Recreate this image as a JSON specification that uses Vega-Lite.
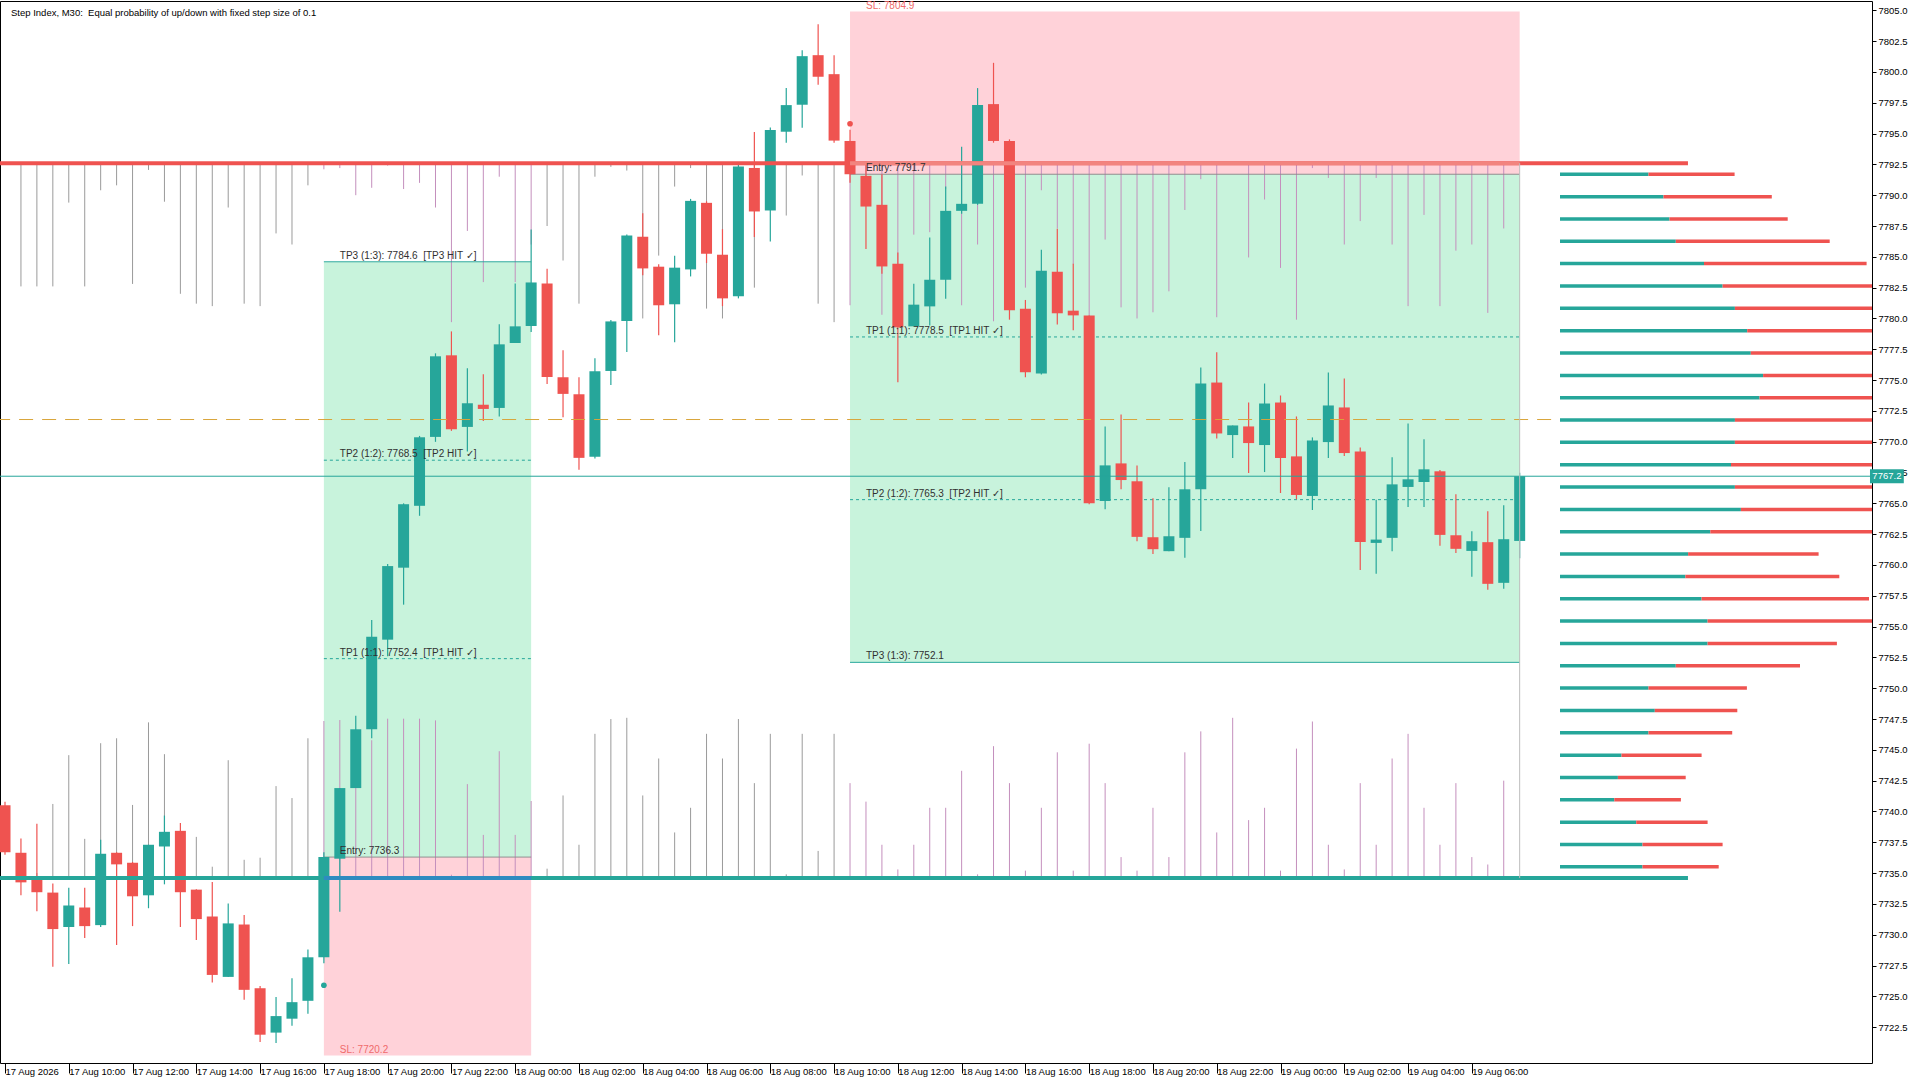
{
  "$schema": "https://vega.github.io/schema/vega-lite/v6.json",
  "width": 1872,
  "height": 1062,
  "autosize": {"type": "none"},
  "padding": {"left": 0, "top": 1, "right": 48, "bottom": 17},
  "background": "#ffffff",
  "config": {
    "view": {"stroke": "#000000", "strokeWidth": 1},
    "axis": {"grid": false, "labelFont": "Liberation Sans", "labelFontSize": 9.5, "labelColor": "#000000", "domainColor": "#000000", "tickColor": "#000000", "labelOverlap": false, "labelFlush": false}
  },
  "datasets": {
    "caption": [{"t":"2026-08-17T08:00:00Z","p":7805.35,"text":"Step Index, M30:\u00a0 Equal probability of up/down with fixed step size of 0.1"}],
    "bars": [
      {"t":"2026-08-17T08:00Z","o":7740.5,"h":7740.8,"l":7736.5,"c":7736.7,"vt":7792.6,"vb":7734.6},
      {"t":"2026-08-17T08:30Z","o":7736.65,"h":7737.8,"l":7733.2,"c":7734.25,"vt":7782.6,"vb":7735.0},
      {"t":"2026-08-17T09:00Z","o":7734.47,"h":7739.0,"l":7731.9,"c":7733.45,"vt":7782.6,"vb":7735.0},
      {"t":"2026-08-17T09:30Z","o":7733.42,"h":7734.15,"l":7727.4,"c":7730.46,"vt":7782.6,"vb":7740.61},
      {"t":"2026-08-17T10:00Z","o":7730.62,"h":7733.82,"l":7727.63,"c":7732.37,"vt":7789.4,"vb":7744.57},
      {"t":"2026-08-17T10:30Z","o":7732.21,"h":7733.82,"l":7729.73,"c":7730.7,"vt":7782.6,"vb":7737.78},
      {"t":"2026-08-17T11:00Z","o":7730.78,"h":7737.7,"l":7730.62,"c":7736.57,"vt":7790.4,"vb":7745.54},
      {"t":"2026-08-17T11:30Z","o":7736.65,"h":7736.7,"l":7729.16,"c":7735.71,"vt":7790.8,"vb":7745.94},
      {"t":"2026-08-17T12:00Z","o":7735.84,"h":7735.9,"l":7730.7,"c":7733.12,"vt":7782.8,"vb":7740.53},
      {"t":"2026-08-17T12:30Z","o":7733.2,"h":7737.3,"l":7732.15,"c":7737.3,"vt":7792.05,"vb":7747.23},
      {"t":"2026-08-17T13:00Z","o":7737.16,"h":7739.67,"l":7734.09,"c":7738.35,"vt":7789.47,"vb":7744.65},
      {"t":"2026-08-17T13:30Z","o":7738.43,"h":7739.07,"l":7730.62,"c":7733.45,"vt":7782.0,"vb":7736.0},
      {"t":"2026-08-17T14:00Z","o":7733.66,"h":7733.7,"l":7729.57,"c":7731.27,"vt":7781.2,"vb":7737.94},
      {"t":"2026-08-17T14:30Z","o":7731.48,"h":7734.28,"l":7726.12,"c":7726.74,"vt":7781.0,"vb":7735.52},
      {"t":"2026-08-17T15:00Z","o":7726.58,"h":7732.53,"l":7726.58,"c":7730.92,"vt":7789.0,"vb":7744.16},
      {"t":"2026-08-17T15:30Z","o":7730.83,"h":7731.61,"l":7724.72,"c":7725.53,"vt":7781.2,"vb":7736.08},
      {"t":"2026-08-17T16:00Z","o":7725.66,"h":7725.85,"l":7721.3,"c":7721.89,"vt":7781.0,"vb":7736.25},
      {"t":"2026-08-17T16:30Z","o":7722.06,"h":7724.94,"l":7721.22,"c":7723.4,"vt":7786.9,"vb":7742.06},
      {"t":"2026-08-17T17:00Z","o":7723.19,"h":7726.47,"l":7722.62,"c":7724.53,"vt":7786.0,"vb":7741.09},
      {"t":"2026-08-17T17:30Z","o":7724.64,"h":7728.81,"l":7723.59,"c":7728.17,"vt":7790.8,"vb":7745.94},
      {"t":"2026-08-17T18:00Z","o":7728.17,"h":7736.7,"l":7727.68,"c":7736.3,"vt":7792.1,"vb":7747.34},
      {"t":"2026-08-17T18:30Z","o":7736.17,"h":7741.9,"l":7731.86,"c":7741.9,"vt":7792.2,"vb":7747.42},
      {"t":"2026-08-17T19:00Z","o":7741.9,"h":7747.77,"l":7741.9,"c":7746.67,"vt":7790.0,"vb":7745.5},
      {"t":"2026-08-17T19:30Z","o":7746.67,"h":7755.53,"l":7745.94,"c":7754.18,"vt":7790.6,"vb":7745.78},
      {"t":"2026-08-17T20:00Z","o":7753.94,"h":7760.07,"l":7752.59,"c":7759.91,"vt":7792.4,"vb":7747.53},
      {"t":"2026-08-17T20:30Z","o":7759.78,"h":7765.0,"l":7756.78,"c":7764.93,"vt":7790.5,"vb":7747.53},
      {"t":"2026-08-17T21:00Z","o":7764.8,"h":7770.47,"l":7763.99,"c":7770.36,"vt":7791.0,"vb":7747.53},
      {"t":"2026-08-17T21:30Z","o":7770.39,"h":7777.17,"l":7769.99,"c":7776.93,"vt":7789.0,"vb":7747.39},
      {"t":"2026-08-17T22:00Z","o":7777.01,"h":7778.95,"l":7770.88,"c":7771.01,"vt":7779.7,"vb":7734.87},
      {"t":"2026-08-17T22:30Z","o":7771.2,"h":7775.96,"l":7769.2,"c":7773.12,"vt":7787.1,"vb":7742.22},
      {"t":"2026-08-17T23:00Z","o":7773.0,"h":7775.47,"l":7771.69,"c":7772.66,"vt":7782.95,"vb":7738.1},
      {"t":"2026-08-17T23:30Z","o":7772.74,"h":7779.52,"l":7772.04,"c":7777.9,"vt":7791.5,"vb":7744.89},
      {"t":"2026-08-18T00:00Z","o":7778.01,"h":7782.84,"l":7778.0,"c":7779.36,"vt":7782.95,"vb":7738.1},
      {"t":"2026-08-18T00:30Z","o":7779.39,"h":7787.22,"l":7778.9,"c":7782.92,"vt":7786.0,"vb":7740.85},
      {"t":"2026-08-18T01:00Z","o":7782.84,"h":7784.03,"l":7774.69,"c":7775.25,"vt":7787.5,"vb":7735.36},
      {"t":"2026-08-18T01:30Z","o":7775.23,"h":7777.43,"l":7771.98,"c":7773.88,"vt":7784.7,"vb":7741.3},
      {"t":"2026-08-18T02:00Z","o":7773.85,"h":7775.23,"l":7767.72,"c":7768.69,"vt":7781.2,"vb":7737.3},
      {"t":"2026-08-18T02:30Z","o":7768.77,"h":7776.77,"l":7768.64,"c":7775.71,"vt":7791.5,"vb":7746.3},
      {"t":"2026-08-18T03:00Z","o":7775.74,"h":7779.87,"l":7774.6,"c":7779.76,"vt":7792.3,"vb":7747.5},
      {"t":"2026-08-18T03:30Z","o":7779.79,"h":7786.81,"l":7777.28,"c":7786.73,"vt":7792.0,"vb":7747.6},
      {"t":"2026-08-18T04:00Z","o":7786.63,"h":7788.54,"l":7783.5,"c":7784.06,"vt":7780.0,"vb":7741.3},
      {"t":"2026-08-18T04:30Z","o":7784.2,"h":7784.4,"l":7778.64,"c":7781.07,"vt":7785.1,"vb":7744.3},
      {"t":"2026-08-18T05:00Z","o":7781.15,"h":7785.09,"l":7778.07,"c":7784.12,"vt":7790.7,"vb":7738.3},
      {"t":"2026-08-18T05:30Z","o":7783.98,"h":7789.7,"l":7783.41,"c":7789.54,"vt":7792.2,"vb":7740.3},
      {"t":"2026-08-18T06:00Z","o":7789.38,"h":7789.5,"l":7784.5,"c":7785.25,"vt":7780.8,"vb":7746.3},
      {"t":"2026-08-18T06:30Z","o":7785.17,"h":7787.25,"l":7781.0,"c":7781.63,"vt":7780.0,"vb":7744.3},
      {"t":"2026-08-18T07:00Z","o":7781.8,"h":7792.48,"l":7781.63,"c":7792.32,"vt":7792.4,"vb":7747.5},
      {"t":"2026-08-18T07:30Z","o":7792.21,"h":7795.13,"l":7786.6,"c":7788.68,"vt":7782.5,"vb":7742.3},
      {"t":"2026-08-18T08:00Z","o":7788.76,"h":7795.5,"l":7786.25,"c":7795.29,"vt":7792.6,"vb":7746.3},
      {"t":"2026-08-18T08:30Z","o":7795.15,"h":7798.69,"l":7794.26,"c":7797.31,"vt":7788.35,"vb":7734.9},
      {"t":"2026-08-18T09:00Z","o":7797.34,"h":7801.77,"l":7795.48,"c":7801.28,"vt":7791.6,"vb":7746.3},
      {"t":"2026-08-18T09:30Z","o":7801.36,"h":7803.87,"l":7798.96,"c":7799.61,"vt":7781.2,"vb":7736.8},
      {"t":"2026-08-18T10:00Z","o":7799.82,"h":7801.36,"l":7794.26,"c":7794.43,"vt":7779.7,"vb":7746.3},
      {"t":"2026-08-18T10:30Z","o":7794.4,"h":7795.3,"l":7791.0,"c":7791.7,"vt":7781.07,"vb":7742.3},
      {"t":"2026-08-18T11:00Z","o":7791.57,"h":7792.73,"l":7785.63,"c":7789.08,"vt":7791.0,"vb":7740.8},
      {"t":"2026-08-18T11:30Z","o":7789.22,"h":7791.7,"l":7783.63,"c":7784.22,"vt":7780.3,"vb":7737.3},
      {"t":"2026-08-18T12:00Z","o":7784.44,"h":7785.36,"l":7774.83,"c":7779.28,"vt":7783.0,"vb":7735.3},
      {"t":"2026-08-18T12:30Z","o":7779.36,"h":7782.82,"l":7779.36,"c":7781.12,"vt":7786.8,"vb":7737.3},
      {"t":"2026-08-18T13:00Z","o":7780.98,"h":7786.57,"l":7779.42,"c":7783.14,"vt":7787.0,"vb":7740.3},
      {"t":"2026-08-18T13:30Z","o":7783.14,"h":7790.7,"l":7781.6,"c":7788.73,"vt":7790.5,"vb":7740.3},
      {"t":"2026-08-18T14:00Z","o":7788.73,"h":7793.94,"l":7788.5,"c":7789.3,"vt":7781.07,"vb":7743.3},
      {"t":"2026-08-18T14:30Z","o":7789.3,"h":7798.69,"l":7789.22,"c":7797.31,"vt":7786.0,"vb":7734.9},
      {"t":"2026-08-18T15:00Z","o":7797.39,"h":7800.74,"l":7794.26,"c":7794.4,"vt":7779.77,"vb":7745.3},
      {"t":"2026-08-18T15:30Z","o":7794.4,"h":7794.53,"l":7779.9,"c":7780.66,"vt":7782.0,"vb":7742.3},
      {"t":"2026-08-18T16:00Z","o":7780.79,"h":7781.5,"l":7775.23,"c":7775.64,"vt":7782.5,"vb":7735.2},
      {"t":"2026-08-18T16:30Z","o":7775.53,"h":7785.57,"l":7775.45,"c":7783.87,"vt":7790.4,"vb":7740.3},
      {"t":"2026-08-18T17:00Z","o":7783.79,"h":7787.27,"l":7779.5,"c":7780.42,"vt":7787.3,"vb":7744.8},
      {"t":"2026-08-18T17:30Z","o":7780.63,"h":7784.44,"l":7779.04,"c":7780.25,"vt":7784.4,"vb":7735.2},
      {"t":"2026-08-18T18:00Z","o":7780.23,"h":7780.25,"l":7764.92,"c":7765.0,"vt":7780.2,"vb":7745.5},
      {"t":"2026-08-18T18:30Z","o":7765.19,"h":7771.24,"l":7764.52,"c":7768.08,"vt":7786.4,"vb":7742.3},
      {"t":"2026-08-18T19:00Z","o":7768.24,"h":7772.21,"l":7766.14,"c":7766.89,"vt":7780.9,"vb":7736.3},
      {"t":"2026-08-18T19:30Z","o":7766.79,"h":7768.08,"l":7761.93,"c":7762.28,"vt":7780.0,"vb":7735.2},
      {"t":"2026-08-18T20:00Z","o":7762.25,"h":7765.41,"l":7760.88,"c":7761.28,"vt":7780.5,"vb":7740.3},
      {"t":"2026-08-18T20:30Z","o":7761.12,"h":7766.3,"l":7761.12,"c":7762.33,"vt":7782.2,"vb":7736.3},
      {"t":"2026-08-18T21:00Z","o":7762.2,"h":7768.35,"l":7760.58,"c":7766.14,"vt":7788.8,"vb":7744.8},
      {"t":"2026-08-18T21:30Z","o":7766.14,"h":7776.02,"l":7762.76,"c":7774.72,"vt":7791.3,"vb":7746.5},
      {"t":"2026-08-18T22:00Z","o":7774.8,"h":7777.26,"l":7770.27,"c":7770.67,"vt":7780.1,"vb":7738.3},
      {"t":"2026-08-18T22:30Z","o":7770.54,"h":7771.32,"l":7768.68,"c":7771.32,"vt":7792.6,"vb":7747.6},
      {"t":"2026-08-18T23:00Z","o":7771.24,"h":7773.18,"l":7767.46,"c":7769.89,"vt":7784.95,"vb":7739.3},
      {"t":"2026-08-18T23:30Z","o":7769.73,"h":7774.72,"l":7767.54,"c":7773.1,"vt":7789.65,"vb":7740.3},
      {"t":"2026-08-19T00:00Z","o":7773.18,"h":7773.75,"l":7765.84,"c":7768.68,"vt":7784.1,"vb":7735.2},
      {"t":"2026-08-19T00:30Z","o":7768.81,"h":7772.05,"l":7765.33,"c":7765.68,"vt":7779.9,"vb":7745.1},
      {"t":"2026-08-19T01:00Z","o":7765.6,"h":7770.35,"l":7764.46,"c":7770.1,"vt":7792.2,"vb":7747.3},
      {"t":"2026-08-19T01:30Z","o":7769.97,"h":7775.61,"l":7768.67,"c":7772.94,"vt":7791.4,"vb":7737.3},
      {"t":"2026-08-19T02:00Z","o":7772.78,"h":7775.12,"l":7768.84,"c":7769.08,"vt":7786.0,"vb":7735.3},
      {"t":"2026-08-19T02:30Z","o":7769.21,"h":7769.54,"l":7759.6,"c":7761.87,"vt":7787.9,"vb":7742.3},
      {"t":"2026-08-19T03:00Z","o":7761.79,"h":7765.3,"l":7759.28,"c":7762.06,"vt":7791.4,"vb":7737.3},
      {"t":"2026-08-19T03:30Z","o":7762.2,"h":7768.73,"l":7761.12,"c":7766.54,"vt":7786.0,"vb":7744.3},
      {"t":"2026-08-19T04:00Z","o":7766.33,"h":7771.48,"l":7764.71,"c":7766.95,"vt":7781.0,"vb":7746.3},
      {"t":"2026-08-19T04:30Z","o":7766.73,"h":7770.19,"l":7764.71,"c":7767.76,"vt":7788.4,"vb":7740.3},
      {"t":"2026-08-19T05:00Z","o":7767.6,"h":7767.7,"l":7761.55,"c":7762.44,"vt":7781.0,"vb":7737.3},
      {"t":"2026-08-19T05:30Z","o":7762.41,"h":7765.73,"l":7760.98,"c":7761.31,"vt":7785.5,"vb":7742.3},
      {"t":"2026-08-19T06:00Z","o":7761.14,"h":7762.74,"l":7759.04,"c":7761.93,"vt":7786.0,"vb":7736.3},
      {"t":"2026-08-19T06:30Z","o":7761.85,"h":7764.36,"l":7757.99,"c":7758.47,"vt":7780.45,"vb":7735.7},
      {"t":"2026-08-19T07:00Z","o":7758.55,"h":7764.84,"l":7758.07,"c":7762.09,"vt":7787.3,"vb":7742.5},
      {"t":"2026-08-19T07:30Z","o":7761.95,"h":7767.49,"l":7760.55,"c":7767.2,"vt":7792.6,"vb":7734.6}
    ],
    "zones": [
      {"t1":"2026-08-17T18:00Z","t2":"2026-08-18T00:30Z","p1":7736.3,"p2":7784.6,"kind":"win"},
      {"t1":"2026-08-17T18:00Z","t2":"2026-08-18T00:30Z","p1":7720.2,"p2":7736.3,"kind":"loss"},
      {"t1":"2026-08-18T10:30Z","t2":"2026-08-19T07:30Z","p1":7752.1,"p2":7791.7,"kind":"win"},
      {"t1":"2026-08-18T10:30Z","t2":"2026-08-19T07:30Z","p1":7791.7,"p2":7804.9,"kind":"loss"}
    ],
    "trade": [
      {"t1":"2026-08-17T18:00Z","t2":"2026-08-18T00:30Z","p":7784.6,"kind":"target"},
      {"t1":"2026-08-17T18:00Z","t2":"2026-08-18T00:30Z","p":7768.5,"kind":"partial"},
      {"t1":"2026-08-17T18:00Z","t2":"2026-08-18T00:30Z","p":7752.4,"kind":"partial"},
      {"t1":"2026-08-17T18:00Z","t2":"2026-08-18T00:30Z","p":7736.3,"kind":"entry"},
      {"t1":"2026-08-18T10:30Z","t2":"2026-08-19T07:30Z","p":7791.7,"kind":"entry"},
      {"t1":"2026-08-18T10:30Z","t2":"2026-08-19T07:30Z","p":7778.5,"kind":"partial"},
      {"t1":"2026-08-18T10:30Z","t2":"2026-08-19T07:30Z","p":7765.3,"kind":"partial"},
      {"t1":"2026-08-18T10:30Z","t2":"2026-08-19T07:30Z","p":7752.1,"kind":"target"}
    ],
    "notes": [
      {"t":"2026-08-17T18:30Z","p":7784.6,"text":"TP3 (1:3): 7784.6\u00a0 [TP3 HIT ✓]","kind":"info"},
      {"t":"2026-08-17T18:30Z","p":7768.5,"text":"TP2 (1:2): 7768.5\u00a0 [TP2 HIT ✓]","kind":"info"},
      {"t":"2026-08-17T18:30Z","p":7752.4,"text":"TP1 (1:1): 7752.4\u00a0 [TP1 HIT ✓]","kind":"info"},
      {"t":"2026-08-17T18:30Z","p":7736.3,"text":"Entry: 7736.3","kind":"info"},
      {"t":"2026-08-17T18:30Z","p":7720.2,"text":"SL: 7720.2","kind":"sl"},
      {"t":"2026-08-18T11:00Z","p":7804.9,"text":"SL: 7804.9","kind":"sl"},
      {"t":"2026-08-18T11:00Z","p":7791.7,"text":"Entry: 7791.7","kind":"info"},
      {"t":"2026-08-18T11:00Z","p":7778.5,"text":"TP1 (1:1): 7778.5\u00a0 [TP1 HIT ✓]","kind":"info"},
      {"t":"2026-08-18T11:00Z","p":7765.3,"text":"TP2 (1:2): 7765.3\u00a0 [TP2 HIT ✓]","kind":"info"},
      {"t":"2026-08-18T11:00Z","p":7752.1,"text":"TP3 (1:3): 7752.1","kind":"info"}
    ],
    "levels": [
      {"kind":"res","p":7792.6,"t1":"2026-08-17T07:00Z","t2":"2026-08-19T12:46:40Z"},
      {"kind":"sup","p":7734.6,"t1":"2026-08-17T07:00Z","t2":"2026-08-19T12:46:40Z"},
      {"kind":"res_in","p":7792.6,"t1":"2026-08-18T10:30Z","t2":"2026-08-19T07:30Z"},
      {"kind":"sup_in","p":7734.6,"t1":"2026-08-17T18:00Z","t2":"2026-08-18T00:30Z"},
      {"kind":"last","p":7767.2,"t1":"2026-08-17T07:00Z","t2":"2026-08-19T20:00Z"},
      {"kind":"mid","p":7771.8,"t1":"2026-08-17T07:00Z","t2":"2026-08-19T20:00Z"}
    ],
    "cursor": [{"t":"2026-08-19T07:30Z","p1":7734.6,"p2":7792.6}],
    "signals": [
      {"t":"2026-08-17T18:00Z","p":7725.9,"side":"buy"},
      {"t":"2026-08-18T10:30Z","p":7795.8,"side":"sell"}
    ],
    "tag": [{"t1":"2026-08-19T18:29:09Z","t2":"2026-08-19T19:32:47Z","tm":"2026-08-19T19:00:58Z","p1":7766.63,"p2":7767.77,"p":7767.2,"text":"7767.2"}],
    "profile": [
      {"p":7791.70,"side":"buy","v":29.5},{"p":7791.70,"side":"sell","v":28.7},
      {"p":7789.88,"side":"buy","v":34.5},{"p":7789.88,"side":"sell","v":36.1},
      {"p":7788.07,"side":"buy","v":36.5},{"p":7788.07,"side":"sell","v":39.4},
      {"p":7786.26,"side":"buy","v":38.6},{"p":7786.26,"side":"sell","v":51.3},
      {"p":7784.45,"side":"buy","v":48.0},{"p":7784.45,"side":"sell","v":54.2},
      {"p":7782.63,"side":"buy","v":54.2},{"p":7782.63,"side":"sell","v":60},
      {"p":7780.82,"side":"buy","v":58.3},{"p":7780.82,"side":"sell","v":60},
      {"p":7779.01,"side":"buy","v":62.4},{"p":7779.01,"side":"sell","v":55},
      {"p":7777.20,"side":"buy","v":63.6},{"p":7777.20,"side":"sell","v":55},
      {"p":7775.38,"side":"buy","v":67.7},{"p":7775.38,"side":"sell","v":50},
      {"p":7773.57,"side":"buy","v":66.5},{"p":7773.57,"side":"sell","v":50},
      {"p":7771.76,"side":"buy","v":58.3},{"p":7771.76,"side":"sell","v":60},
      {"p":7769.95,"side":"buy","v":58.3},{"p":7769.95,"side":"sell","v":58},
      {"p":7768.13,"side":"buy","v":57.0},{"p":7768.13,"side":"sell","v":60},
      {"p":7766.32,"side":"buy","v":58.3},{"p":7766.32,"side":"sell","v":56},
      {"p":7764.51,"side":"buy","v":60.3},{"p":7764.51,"side":"sell","v":55},
      {"p":7762.70,"side":"buy","v":50.1},{"p":7762.70,"side":"sell","v":62},
      {"p":7760.88,"side":"buy","v":42.7},{"p":7760.88,"side":"sell","v":43.5},
      {"p":7759.07,"side":"buy","v":41.8},{"p":7759.07,"side":"sell","v":51.3},
      {"p":7757.26,"side":"buy","v":47.2},{"p":7757.26,"side":"sell","v":55.8},
      {"p":7755.45,"side":"buy","v":49.2},{"p":7755.45,"side":"sell","v":58},
      {"p":7753.63,"side":"buy","v":49.2},{"p":7753.63,"side":"sell","v":43.1},
      {"p":7751.82,"side":"buy","v":38.6},{"p":7751.82,"side":"sell","v":41.4},
      {"p":7750.01,"side":"buy","v":29.5},{"p":7750.01,"side":"sell","v":32.8},
      {"p":7748.20,"side":"buy","v":31.6},{"p":7748.20,"side":"sell","v":27.5},
      {"p":7746.38,"side":"buy","v":29.5},{"p":7746.38,"side":"sell","v":27.9},
      {"p":7744.57,"side":"buy","v":20.5},{"p":7744.57,"side":"sell","v":26.7},
      {"p":7742.76,"side":"buy","v":19.3},{"p":7742.76,"side":"sell","v":22.6},
      {"p":7740.95,"side":"buy","v":18.1},{"p":7740.95,"side":"sell","v":22.2},
      {"p":7739.13,"side":"buy","v":25.4},{"p":7739.13,"side":"sell","v":23.8},
      {"p":7737.32,"side":"buy","v":27.5},{"p":7737.32,"side":"sell","v":26.7},
      {"p":7735.51,"side":"buy","v":27.5},{"p":7735.51,"side":"sell","v":25.4}
    ]
  },
  "resolve": {"scale": {"x": "independent", "y": "shared", "color": "independent"}},
  "layer": [
    {
      "resolve": {"scale": {"color": "independent", "strokeDash": "independent"}},
      "layer": [
        {
          "data": {"name": "zones"},
          "mark": {"type": "rect", "clip": true},
          "encoding": {
            "x": {"field": "t1", "type": "temporal", "title": null,
              "scale": {"type": "utc", "domain": [{"year": 2026, "month": 8, "date": 17, "hours": 8, "minutes": 0, "seconds": 0, "utc": true}, {"year": 2026, "month": 8, "date": 19, "hours": 18, "minutes": 23, "seconds": 32, "utc": true}]},
              "axis": {
                "values": [
                  {"year": 2026, "month": 8, "date": 17, "hours": 8, "utc": true},
                  {"year": 2026, "month": 8, "date": 17, "hours": 10, "utc": true},
                  {"year": 2026, "month": 8, "date": 17, "hours": 12, "utc": true},
                  {"year": 2026, "month": 8, "date": 17, "hours": 14, "utc": true},
                  {"year": 2026, "month": 8, "date": 17, "hours": 16, "utc": true},
                  {"year": 2026, "month": 8, "date": 17, "hours": 18, "utc": true},
                  {"year": 2026, "month": 8, "date": 17, "hours": 20, "utc": true},
                  {"year": 2026, "month": 8, "date": 17, "hours": 22, "utc": true},
                  {"year": 2026, "month": 8, "date": 18, "hours": 0, "utc": true},
                  {"year": 2026, "month": 8, "date": 18, "hours": 2, "utc": true},
                  {"year": 2026, "month": 8, "date": 18, "hours": 4, "utc": true},
                  {"year": 2026, "month": 8, "date": 18, "hours": 6, "utc": true},
                  {"year": 2026, "month": 8, "date": 18, "hours": 8, "utc": true},
                  {"year": 2026, "month": 8, "date": 18, "hours": 10, "utc": true},
                  {"year": 2026, "month": 8, "date": 18, "hours": 12, "utc": true},
                  {"year": 2026, "month": 8, "date": 18, "hours": 14, "utc": true},
                  {"year": 2026, "month": 8, "date": 18, "hours": 16, "utc": true},
                  {"year": 2026, "month": 8, "date": 18, "hours": 18, "utc": true},
                  {"year": 2026, "month": 8, "date": 18, "hours": 20, "utc": true},
                  {"year": 2026, "month": 8, "date": 18, "hours": 22, "utc": true},
                  {"year": 2026, "month": 8, "date": 19, "hours": 0, "utc": true},
                  {"year": 2026, "month": 8, "date": 19, "hours": 2, "utc": true},
                  {"year": 2026, "month": 8, "date": 19, "hours": 4, "utc": true},
                  {"year": 2026, "month": 8, "date": 19, "hours": 6, "utc": true}
                ],
                "tickCount": 40,
                "labelExpr": "utcFormat(datum.value, '%d %H') == '17 08' ? '17 Aug 2026' : utcFormat(datum.value, '%d %b %H:%M')",
                "labelAlign": "left", "labelBaseline": "top", "labelOffset": 0, "labelPadding": -7,
                "tickSize": 10, "domain": false
              }
            },
            "x2": {"field": "t2"},
            "y": {"field": "p1", "type": "quantitative", "title": null,
              "scale": {"domain": [7720.0, 7805.35], "zero": false, "nice": false},
              "axis": {
                "orient": "right", "format": ".1f", "tickSize": 4, "labelPadding": 2, "domain": false, "labelOverlap": false, "tickCount": 40,
                "values": [7722.5, 7725, 7727.5, 7730, 7732.5, 7735, 7737.5, 7740, 7742.5, 7745, 7747.5, 7750, 7752.5, 7755, 7757.5, 7760, 7762.5, 7765, 7767.5, 7770, 7772.5, 7775, 7777.5, 7780, 7782.5, 7785, 7787.5, 7790, 7792.5, 7795, 7797.5, 7800, 7802.5, 7805]
              }
            },
            "y2": {"field": "p2"},
            "color": {"field": "kind", "type": "nominal", "legend": null,
              "scale": {"domain": ["win", "loss"], "range": ["#c8f3dc", "#ffd2d9"]}}
          }
        },
        {
          "data": {"name": "bars"},
          "mark": {"type": "rule", "strokeWidth": 1, "clip": true},
          "encoding": {
            "x": {"field": "t", "type": "temporal", "title": null},
            "y": {"field": "vt", "type": "quantitative", "title": null},
            "y2": {"datum": 7792.6},
            "color": {"condition": {"test": "(time(datum.t) >= utc(2026,7,17,18,0,0,0) && time(datum.t) <= utc(2026,7,18,0,30,0,0)) || time(datum.t) >= utc(2026,7,18,10,30,0,0)", "value": "#c48fbd"}, "value": "#9a9a9a"}
          }
        },
        {
          "data": {"name": "bars"},
          "mark": {"type": "rule", "strokeWidth": 1, "clip": true},
          "encoding": {
            "x": {"field": "t", "type": "temporal", "title": null},
            "y": {"field": "vb", "type": "quantitative", "title": null},
            "y2": {"datum": 7734.6},
            "color": {"condition": {"test": "(time(datum.t) >= utc(2026,7,17,18,0,0,0) && time(datum.t) <= utc(2026,7,18,0,30,0,0)) || time(datum.t) >= utc(2026,7,18,10,30,0,0)", "value": "#c48fbd"}, "value": "#9a9a9a"}
          }
        },
        {
          "data": {"name": "trade"},
          "mark": {"type": "rule", "strokeWidth": 1},
          "encoding": {
            "x": {"field": "t1", "type": "temporal", "title": null},
            "x2": {"field": "t2"},
            "y": {"field": "p", "type": "quantitative", "title": null},
            "color": {"field": "kind", "type": "nominal", "legend": null,
              "scale": {"domain": ["target", "partial", "entry"], "range": ["#26a69a", "#26a69a", "#8c8c8c"]}},
            "strokeDash": {"field": "kind", "type": "nominal", "legend": null,
              "scale": {"domain": ["target", "partial", "entry"], "range": [[1, 0], [3, 3], [1, 0]]}}
          }
        },
        {
          "data": {"name": "bars"},
          "mark": {"type": "rule", "strokeWidth": 1.2, "clip": true},
          "encoding": {
            "x": {"field": "t", "type": "temporal", "title": null},
            "y": {"field": "l", "type": "quantitative", "title": null},
            "y2": {"field": "h"},
            "color": {"condition": {"test": "datum.c >= datum.o", "value": "#26a69a"}, "value": "#ef5350"}
          }
        },
        {
          "data": {"name": "bars"},
          "mark": {"type": "bar", "size": 11, "clip": true},
          "encoding": {
            "x": {"field": "t", "type": "temporal", "title": null},
            "y": {"field": "o", "type": "quantitative", "title": null},
            "y2": {"field": "c"},
            "color": {"condition": {"test": "datum.c >= datum.o", "value": "#26a69a"}, "value": "#ef5350"}
          }
        },
        {
          "data": {"name": "levels"},
          "transform": [{"filter": "datum.kind == 'res' || datum.kind == 'sup' || datum.kind == 'res_in' || datum.kind == 'sup_in'"}],
          "mark": {"type": "rule", "strokeWidth": 4, "clip": true},
          "encoding": {
            "x": {"field": "t1", "type": "temporal", "title": null},
            "x2": {"field": "t2"},
            "y": {"field": "p", "type": "quantitative", "title": null},
            "color": {"field": "kind", "type": "nominal", "legend": null,
              "scale": {"domain": ["res", "sup", "res_in", "sup_in"], "range": ["#ef5350", "#26a69a", "#f2847f", "#2e8bc0"]}}
          }
        },
        {
          "data": {"name": "levels"},
          "transform": [{"filter": "datum.kind == 'last'"}],
          "mark": {"type": "rule", "strokeWidth": 1, "color": "#26a69a", "clip": true},
          "encoding": {
            "x": {"field": "t1", "type": "temporal", "title": null},
            "x2": {"field": "t2"},
            "y": {"field": "p", "type": "quantitative", "title": null}
          }
        },
        {
          "data": {"name": "levels"},
          "transform": [{"filter": "datum.kind == 'mid'"}],
          "mark": {"type": "rule", "strokeWidth": 1, "color": "#d9a53a", "strokeDash": [14, 9], "clip": true},
          "encoding": {
            "x": {"field": "t1", "type": "temporal", "title": null},
            "x2": {"field": "t2"},
            "y": {"field": "p", "type": "quantitative", "title": null}
          }
        },
        {
          "data": {"name": "cursor"},
          "mark": {"type": "rule", "strokeWidth": 1, "color": "#bdbdbd"},
          "encoding": {
            "x": {"field": "t", "type": "temporal", "title": null},
            "y": {"field": "p1", "type": "quantitative", "title": null},
            "y2": {"field": "p2"}
          }
        },
        {
          "data": {"name": "notes"},
          "mark": {"type": "text", "align": "left", "baseline": "bottom", "dy": -1, "fontSize": 10, "font": "Liberation Sans", "clip": true},
          "encoding": {
            "x": {"field": "t", "type": "temporal", "title": null},
            "y": {"field": "p", "type": "quantitative", "title": null},
            "text": {"field": "text"},
            "color": {"field": "kind", "type": "nominal", "legend": null,
              "scale": {"domain": ["info", "sl"], "range": ["#303030", "#f06b6b"]}}
          }
        },
        {
          "data": {"name": "caption"},
          "mark": {"type": "text", "align": "left", "baseline": "top", "dx": 6, "dy": 2, "fontSize": 9.5, "font": "Liberation Sans", "color": "#000000"},
          "encoding": {
            "x": {"field": "t", "type": "temporal", "title": null},
            "y": {"field": "p", "type": "quantitative", "title": null},
            "text": {"field": "text"}
          }
        },
        {
          "data": {"name": "signals"},
          "mark": {"type": "point", "filled": true, "size": 32, "opacity": 1},
          "encoding": {
            "x": {"field": "t", "type": "temporal", "title": null},
            "y": {"field": "p", "type": "quantitative", "title": null},
            "color": {"field": "side", "type": "nominal", "legend": null,
              "scale": {"domain": ["buy", "sell"], "range": ["#26a69a", "#ef5350"]}}
          }
        },
        {
          "data": {"name": "tag"},
          "mark": {"type": "rect", "color": "#26a69a"},
          "encoding": {
            "x": {"field": "t1", "type": "temporal", "title": null},
            "x2": {"field": "t2"},
            "y": {"field": "p1", "type": "quantitative", "title": null},
            "y2": {"field": "p2"}
          }
        },
        {
          "data": {"name": "tag"},
          "mark": {"type": "text", "color": "#ffffff", "fontSize": 9.5, "font": "Liberation Sans", "align": "center", "baseline": "middle"},
          "encoding": {
            "x": {"field": "tm", "type": "temporal", "title": null},
            "y": {"field": "p", "type": "quantitative", "title": null},
            "text": {"field": "text"}
          }
        }
      ]
    },
    {
      "data": {"name": "profile"},
      "mark": {"type": "bar", "orient": "horizontal", "size": 3.5, "clip": true},
      "encoding": {
        "x": {"field": "v", "type": "quantitative", "stack": "zero", "axis": null,
          "scale": {"domain": [-520, 104], "zero": false, "nice": false}},
        "y": {"field": "p", "type": "quantitative", "title": null,
          "axis": {
            "orient": "right", "format": ".1f", "tickSize": 4, "labelPadding": 2, "domain": false, "labelOverlap": false, "tickCount": 40,
            "values": [7722.5, 7725, 7727.5, 7730, 7732.5, 7735, 7737.5, 7740, 7742.5, 7745, 7747.5, 7750, 7752.5, 7755, 7757.5, 7760, 7762.5, 7765, 7767.5, 7770, 7772.5, 7775, 7777.5, 7780, 7782.5, 7785, 7787.5, 7790, 7792.5, 7795, 7797.5, 7800, 7802.5, 7805]
          }},
        "color": {"field": "side", "type": "nominal", "legend": null,
          "scale": {"domain": ["buy", "sell"], "range": ["#26a69a", "#ef5350"]}},
        "order": {"field": "side", "sort": "ascending"}
      }
    }
  ]
}
